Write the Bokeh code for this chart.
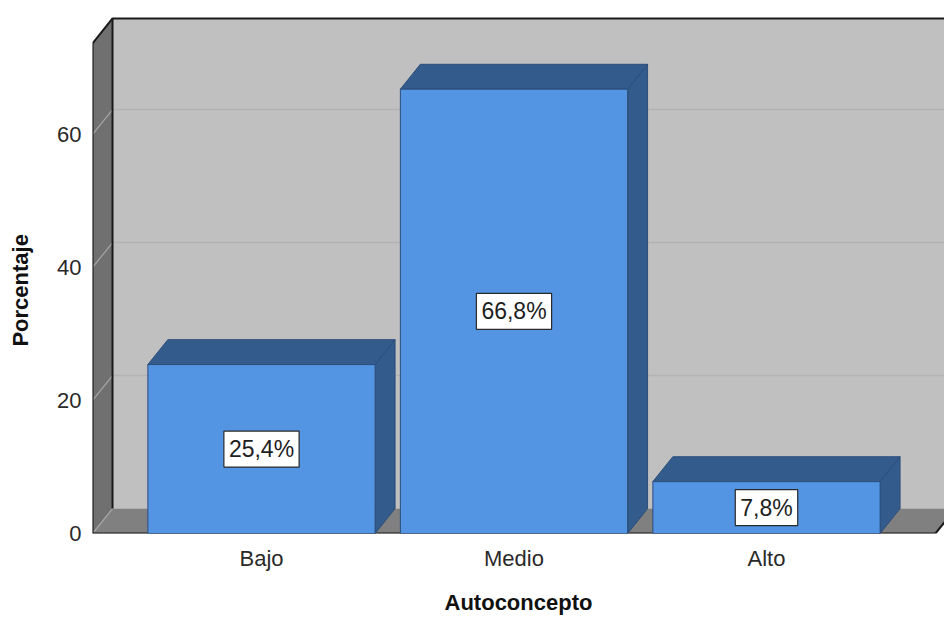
import math
from bokeh.plotting import figure
from bokeh.models import FixedTicker, Range1d
from bokeh.core.properties import value
from bokeh.embed import file_html
from bokeh.resources import INLINE

# ---- data ----
categories = ["Bajo", "Medio", "Alto"]
percentages = [25.4, 66.8, 7.8]
value_labels = ["25,4%", "66,8%", "7,8%"]
y_ticks = [0, 20, 40, 60]
x_title = "Autoconcepto"
y_title = "Porcentaje"

# ---- layout constants ----
FONT = "Liberation Sans"
W, H = 944, 617
x0, xR = 0.331, 3.669       # front plane left/right (data x)
ymax = 73.7                 # front plane top (data y)
dx, dy = 0.079, 3.74        # depth offset
bw = 0.9                    # bar width

WALL = "#c0c0c0"
SIDE_WALL = "#707070"
FLOOR = "#808080"
GRID = "#b3b3b3"
GRID_SIDE = "#a6a6a6"
FRONT = "#5394e3"
DARK = "#335b8c"
EDGE = "#2c4e7a"

p = figure(width=W, height=H, output_backend="svg", toolbar_location=None,
           x_range=Range1d(0.3307, 3.705), y_range=Range1d(0, 78.63),
           min_border_left=92, min_border_right=0, min_border_top=10,
           min_border_bottom=82)
p.outline_line_color = None
p.background_fill_color = "white"
p.xgrid.visible = False
p.ygrid.visible = False

# back wall
p.patch([x0 + dx, xR + dx + 0.2, xR + dx + 0.2, x0 + dx],
        [dy, dy, ymax + dy, ymax + dy], fill_color=WALL, line_color=None)
# back wall gridlines
for t in y_ticks[1:]:
    p.line([x0 + dx, xR + dx + 0.2], [t + dy, t + dy], line_color=GRID, line_width=1.5)
# left wall
p.patch([x0, x0, x0 + dx, x0 + dx], [0, ymax, ymax + dy, dy],
        fill_color=SIDE_WALL, line_color=None)
# floor
p.patch([x0, xR, xR + dx, x0 + dx], [0, 0, dy, dy], fill_color=FLOOR, line_color=None)
# diagonal gridlines on left wall
for t in y_ticks:
    p.line([x0, x0 + dx], [t, t + dy], line_color=GRID_SIDE, line_width=1.2)
# edges
p.line([x0, x0], [0, ymax], line_color="#1a1a1a", line_width=2)
p.line([x0 + dx, x0 + dx], [dy, ymax + dy], line_color="#1a1a1a", line_width=2)
p.line([x0, x0 + dx, xR + dx + 0.2], [ymax, ymax + dy, ymax + dy],
       line_color="#1a1a1a", line_width=2)
p.line([x0, xR], [0, 0], line_color="#1a1a1a", line_width=2)
p.line([xR, xR + dx], [0, dy], line_color="#1a1a1a", line_width=2)

# bars
xs_center = list(range(1, len(categories) + 1))
for c, v in zip(xs_center, percentages):
    l, r = c - bw / 2, c + bw / 2
    # side
    p.patch([r, r + dx, r + dx, r], [0, dy, v + dy, v], fill_color=DARK,
            line_color=EDGE, line_width=1)
    # top
    p.patch([l, r, r + dx, l + dx], [v, v, v + dy, v + dy], fill_color=DARK,
            line_color=EDGE, line_width=1)
    # front
    p.patch([l, r, r, l], [0, 0, v, v], fill_color=FRONT, line_color=EDGE,
            line_width=1)

# value labels
p.text(x=xs_center, y=[v / 2 for v in percentages], text=value_labels,
       text_font=value(FONT), text_font_size="23px", text_color="#1e1e1e",
       text_align="center", text_baseline="middle",
       background_fill_color="white", border_line_color="#2a2a2a",
       border_line_width=1.2, padding=5)

# axes
p.xaxis.ticker = FixedTicker(ticks=xs_center)
p.xaxis.major_label_overrides = {c: name for c, name in zip(xs_center, categories)}
p.xaxis.axis_line_color = None
p.xaxis.major_tick_line_color = None
p.xaxis.minor_tick_line_color = None
p.xaxis.major_tick_out = 0
p.xaxis.major_tick_in = 0
p.xaxis.major_label_text_font = FONT
p.xaxis.major_label_text_font_size = "22px"
p.xaxis.major_label_text_color = "#2a2a2a"
p.xaxis.major_label_standoff = 12
p.xaxis.axis_label = x_title
p.xaxis.axis_label_text_font = FONT
p.xaxis.axis_label_text_font_size = "22px"
p.xaxis.axis_label_text_font_style = "bold"
p.xaxis.axis_label_text_color = "#111111"
p.xaxis.axis_label_standoff = 16

p.yaxis.ticker = FixedTicker(ticks=y_ticks)
p.yaxis.axis_line_color = None
p.yaxis.major_tick_line_color = None
p.yaxis.minor_tick_line_color = None
p.yaxis.major_tick_out = 0
p.yaxis.major_tick_in = 0
p.yaxis.major_label_text_font = FONT
p.yaxis.major_label_text_font_size = "22px"
p.yaxis.major_label_text_color = "#2a2a2a"
p.yaxis.major_label_standoff = 11
# trailing no-break spaces shift the centred title down to the front-plane centre
p.yaxis.axis_label = y_title + "\u00a0" * 6
p.yaxis.axis_label_text_font = FONT
p.yaxis.axis_label_text_font_size = "22px"
p.yaxis.axis_label_text_font_style = "bold"
p.yaxis.axis_label_text_color = "#111111"
p.yaxis.axis_label_standoff = 21

open("out.html", "w").write(file_html(p, INLINE))
